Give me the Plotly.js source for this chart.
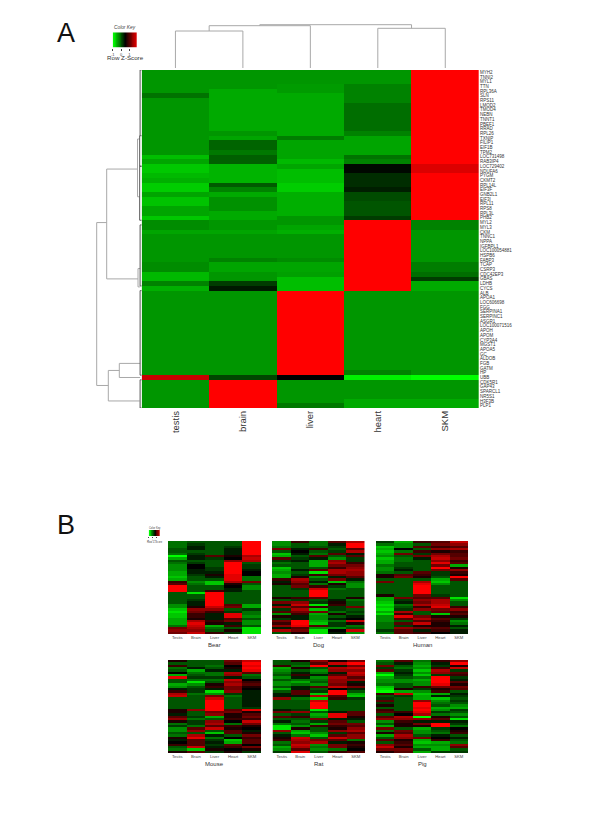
<!DOCTYPE html>
<html>
<head>
<meta charset="utf-8">
<script src="https://cdn.plot.ly/plotly-3.0.1.min.js"></script>
<style>html,body{margin:0;padding:0;background:#fff}</style>
</head>
<body>
<div id="chart" style="width:600px;height:840px"></div>
<script>
const tissues = ["testis","brain","liver","heart","SKM"];
const panelTissues = ["Testis","Brain","Liver","Heart","SKM"];
const geneLabels = ["MYH2","TNNI2","MYL1","TTN","RPL36A","SLN","RPS11","LMOD2","TMOD4","NEBN","TNNT1","PBEF1","RRAD","RPL26","TXNIP","FILIP1","EIF1B","TPM2","LOC731498","RAB3IP4","LOC729402","NDUFA6","PYGM","CKMT2","RPL14L","EIF3F","GNB2L1","EIF3I","RPL11","RPS8","RPL3L","PHB2","MYL2","MYL3","CKM","TNNC1","NPPA","IGFBPL1","LOC100054881","HSPB6","FABP3","TCAP","CSRP3","CDC42EP3","GBAS","LDHB","CYCS","ALB","APOA1","LOC606698","FGG","SERPINA1","SERPINC1","ASGR1","LOC100071516","APOH","APOM","CYP3A4","MGST1","APOA5","GC","ALDOB","FGB","GATM","HP","UBB","CDK5R1","GAP43","SPARCL1","NR5S1","H3F3B","PLP1"];

const testisVals = [-1.5,-1.5,-1.5,-1.5,-1.5,-1.15,-1.5,-1.5,-1.5,-1.5,
 -1.5,-1.5,-1.5,-1.5,-1.5,-1.5,-1.5,-1.5,-1.9,-1.65,
 -2,-2,-1.85,-1.75,-2.05,-2.05,-1.65,-1.95,-1.95,-1.65,
 -1.65,-2,-1.4,-1.4,-1.65,-1.5,-1.5,-1.5,-1.5,-1.5,
 -1.5,-1.4,-1.4,-1.85,-1.85,-1.3,-1.75,-1.5,-1.5,-1.5,
 -1.5,-1.5,-1.5,-1.5,-1.5,-1.5,-1.5,-1.5,-1.5,-1.5,
 -1.5,-1.5,-1.5,-1.5,-1.5,2.0,-1.5,-1.5,-1.5,-1.5,
 -1.5,-1.5];
const brainVals = [-1.5,-1.5,-1.5,-1.5,-1.7,-1.7,-1.7,-1.7,-1.7,-1.7,
 -1.7,-1.7,-1.7,-1.5,-1.65,-1,-1,-1.2,-.95,-.95,
 -1.8,-1.8,-1.8,-1.8,-.9,-1.3,-1.7,-1.45,-1.45,-1.45,
 -1.7,-1.7,-1.5,-1.5,-1.65,-1.5,-1.5,-1.5,-1.5,-1.5,
 -1.3,-1.65,-1.65,-1.5,-1.5,-.6,-.25,-1.5,-1.5,-1.5,
 -1.5,-1.5,-1.5,-1.5,-1.5,-1.5,-1.5,-1.5,-1.5,-1.5,
 -1.5,-1.5,-1.5,-1.5,-1.5,-.7,2.55,2.55,2.55,2.55,
 2.55,2.55];
const liverVals = [-1.5,-1.5,-1.5,-1.55,-1.55,-1.7,-1.7,-1.7,-1.7,-1.7,
 -1.7,-1.7,-1.7,-1.7,-1.25,-1.65,-1.65,-1.65,-1.65,-1.85,
 -1.65,-1.9,-1.9,-1.9,-2.05,-2.05,-1.75,-1.75,-1.75,-1.75,
 -1.75,-1.5,-1.5,-1.65,-1.75,-1.5,-1.5,-1.5,-1.5,-1.5,
 -1.4,-1.65,-1.65,-1.6,-1.9,-1.9,-1.9,2.55,2.55,2.55,
 2.55,2.55,2.55,2.55,2.55,2.55,2.55,2.55,2.55,2.55,
 2.55,2.55,2.55,2.55,2.55,0,-1.5,-1.5,-1.5,-1.5,
 -1.5,-1.2];
const heartVals = [-1.5,-1.5,-1.5,-1.3,-1.3,-1.3,-1.3,-1.1,-1.1,-1.1,
 -1.1,-1.1,-1.1,-1.3,-1.65,-1.65,-1.65,-1.65,-1.15,-1.3,
 -.08,-.08,-.45,-.45,-.45,-.3,-.75,-.75,-.85,-.85,
 -.85,-.6,2.55,2.55,2.55,2.55,2.55,2.55,2.55,2.55,
 2.55,2.55,2.55,2.55,2.55,2.55,2.55,-1.5,-1.5,-1.5,
 -1.5,-1.5,-1.5,-1.5,-1.5,-1.5,-1.5,-1.5,-1.5,-1.5,
 -1.5,-1.5,-1.5,-1.5,-1.3,-2.4,-1.5,-1.5,-1.5,-1.5,
 -1.7,-1.7];
const skmVals = [2.55,2.55,2.55,2.55,2.55,2.55,2.55,2.55,2.55,2.55,
 2.55,2.55,2.55,2.55,2.55,2.55,2.55,2.55,2.55,2.55,
 2.2,2.2,2.55,2.55,2.55,2.55,2.55,2.55,2.55,2.55,
 2.55,2.55,-1.3,-1.3,-1.5,-1.5,-1.5,-1.5,-1.5,-1.5,
 -1.5,-1.25,-1.25,-1.1,-.6,-1.7,-1.7,-1.5,-1.5,-1.5,
 -1.5,-1.5,-1.5,-1.5,-1.5,-1.5,-1.5,-1.5,-1.5,-1.5,
 -1.5,-1.5,-1.5,-1.5,-1.5,-2.55,-1.5,-1.5,-1.5,-1.5,
 -1.7,-1.7];

const keySteps = [-1,-0.8,-0.6,-0.4,-0.2,0,0.2,0.45,0.7,0.9,1.1,1.3,1.5,1.7,1.9];
const keyTicks = [-1,0,1];

// dendrogram merges: [first position, second position, merge height, first child height, second child height]
const colMerges = [[0,1,37,0,0],[3,4,39.7,0,0],[0.5,2,42.3,37,0],[1.25,3.5,43.3,42.3,39.7]];
const rowMerges = [[32,66.7,45,35,33.4],[20.6,44,35,4.2,3.7],[14.2,26.5,4.2,2,2],[41.8,45.7,3.7,1.5,1.5],
 [63.5,70,33.4,22.4,2],[62,65,22.4,1.5,1.5]];
const rowLeaves = [[-0.5,13.5,1.6,0,0],[13.5,20,2,1.6,0],[20,31.5,2,0,0],[32.5,45.5,1.6,0,0],[46.5,64.5,1.6,0,0],[65.5,71.5,1.6,0,0]];

const bearRows = [[-4,-3,-3,-3,9],[-4,-2,-3,-3,9],[-4,-1,-3,-2,9],[-3,-1,-3,-1,9],[-3,-3,-3,-1,9],[-4,-2,-3,-1,9],[-9,-1,3,1,6],[-6,-1,-2,0,7],[-3,-3,-3,5,6],[-4,-2,-3,9,-3],
 [-5,0,-3,9,-2],[-5,0,-2,9,-2],[-5,-1,-2,9,-1],[-6,-1,-1,9,0],[-6,-2,1,8,0],[-7,-3,-1,8,-4],[-6,-3,-3,8,-4],[2,-5,-7,6,4],[3,-4,-7,1,-3],[9,-3,-3,0,-5],
 [9,-3,-3,-1,-5],[9,-3,2,-1,-3],[-3,-8,9,-3,-3],[-3,-3,9,-3,-3],[-3,-3,9,-3,-3],[-3,-2,9,-3,-3],[-3,-1,9,-3,-3],[-5,-1,9,3,-6],[-5,1,7,4,-6],[-7,5,5,-3,-2],
 [-8,4,2,-2,-4],[-7,2,-1,8,-4],[-7,2,-1,8,-5],[-6,1,-1,3,-3],[-6,6,2,4,-5],[-6,8,1,-1,-5],[-4,7,-6,2,-3],[4,6,-4,-3,-8],[5,5,-3,1,-8],[4,7,2,-2,-8]];
const dogRows = [[-5,2,-4,3,6],[-5,-3,-4,-1,9],[-4,-3,-3,-2,9],[4,-1,2,-3,3],[-3,0,-3,-2,6],[-7,-1,-4,3,-1],[-6,-3,3,-3,3],[3,-2,-1,-5,-2],[-2,-1,-6,5,-2],[-4,-3,-6,6,2],
 [-3,-3,-6,4,4],[-7,-3,-3,2,5],[-6,-1,3,6,6],[-5,-3,-8,6,5],[-6,-2,2,4,5],[-6,1,-5,-1,3],[2,6,-3,4,-1],[-1,5,-1,-7,-4],[1,3,-4,1,-5],[-3,4,2,-2,-5],
 [-3,-2,7,-4,-3],[-3,-3,9,-3,-3],[-3,-3,9,-3,-3],[-3,-3,9,-3,-3],[1,2,3,-3,1],[-3,-2,-3,-1,-4],[4,5,-2,1,-3],[-1,7,-8,2,-3],[5,3,2,-2,4],[-2,6,-7,-2,-3],
 [3,4,4,-4,-2],[-5,2,-6,1,-3],[1,-1,-5,-3,-1],[-2,-1,-5,-1,0],[4,9,-6,-4,7],[2,9,-7,-2,1],[5,8,3,-2,-4],[-1,3,-5,-5,-3],[6,4,-8,0,7],[-3,1,-8,-1,-5]];
const humanRows = [[-2,-6,2,3,7],[-4,-5,-3,4,5],[-7,-5,3,2,3],[-6,0,-3,5,6],[-7,-4,2,1,2],[-6,4,-2,4,3],[-5,-3,4,6,3],[-7,-4,-1,7,4],[-6,-4,-3,5,2],[-6,-3,-3,8,3],
 [-4,-3,-3,4,-6],[-5,-2,-3,9,1],[-5,-1,-3,4,5],[-4,-3,3,-2,2],[1,3,2,-2,1],[1,4,1,-3,9],[-3,-3,-3,-6,3],[4,-3,6,-7,-3],[-3,-3,8,-5,-3],[-3,-3,9,-3,-3],
 [-3,-3,9,-3,-3],[-3,-3,9,-3,-3],[-3,-3,9,-3,-3],[1,-3,4,-2,-3],[-6,4,3,3,-8],[-6,-2,5,6,-5],[-7,-1,4,6,-3],[-8,-4,6,7,-3],[-7,-3,2,8,2],[-8,-2,5,4,5],
 [-6,6,-3,3,2],[-8,2,-3,-7,3],[-5,8,4,1,1],[-5,3,6,3,-2],[-5,-3,3,2,-5],[-4,3,7,1,-4],[-4,-2,1,1,-1],[-4,5,4,3,-3],[-2,3,-1,2,-1],[-4,3,2,0,-1]];
const mouseRows = [[1,-3,-3,4,7],[-3,-3,-3,3,9],[2,-3,-4,0,8],[-4,-1,-3,1,9],[-3,-6,-1,-1,8],[0,-4,-4,6,3],[-6,-3,-4,5,-4],[8,-2,-2,-1,-3],[-3,-4,-4,7,0],[-3,-8,-3,5,2],
 [-6,-5,1,6,3],[-5,-3,2,4,1],[-1,-2,-1,4,0],[2,-2,-8,5,-1],[6,-4,-5,-2,-1],[7,-3,4,-4,-1],[-3,-3,7,-3,-1],[-3,-3,9,-3,-1],[-3,-3,9,-3,-1],[-3,-3,9,-3,-1],
 [-3,-3,9,-3,-2],[1,5,9,3,8],[1,-3,4,4,1],[-1,-3,5,1,3],[3,-2,-6,1,4],[5,-4,-3,2,2],[1,-2,5,0,7],[-4,-2,6,-4,4],[-2,-4,3,2,1],[-5,3,7,1,0],
 [-5,5,-3,3,-1],[-3,-3,-7,3,1],[-4,6,-1,-3,4],[1,8,-4,0,2],[-1,3,-2,-7,3],[0,3,-1,-6,3],[2,3,-2,3,0],[-3,7,-1,2,4],[-4,-7,1,0,1],[1,3,-2,1,-2]];
const ratRows = [[-3,1,5,1,4],[-3,-3,3,7,9],[2,-4,9,-1,4],[-6,1,-3,6,7],[-5,-3,-5,5,5],[-4,-1,-4,-1,7],[-3,2,-1,3,6],[-5,-1,-5,6,3],[-3,-4,-4,5,5],[-5,-6,-3,5,-1],
 [-5,-4,-5,4,1],[-3,-1,3,7,4],[-6,-1,-3,0,-1],[-3,3,-2,9,-3],[-1,3,-7,9,-6],[-1,-1,6,3,-7],[5,-4,-7,2,-2],[-3,-3,7,-3,-3],[-3,-3,9,-3,-3],[-3,-3,9,-3,-3],
 [-3,-3,9,-3,-3],[-1,-2,-8,-3,-3],[4,5,-3,-1,3],[-3,-2,-6,8,3],[3,2,-5,8,1],[-3,-3,4,-1,-1],[-1,-4,-2,3,-3],[-4,-3,-6,4,4],[-8,-5,2,2,3],[-8,1,-3,1,5],
 [5,-6,-3,5,6],[-3,-7,-5,-2,3],[-1,-4,-7,3,5],[1,7,-3,7,5],[2,6,4,3,-4],[-4,5,6,-1,1],[-3,7,-5,4,2],[-6,6,-4,4,1],[-5,3,-5,-4,0],[-2,8,-3,2,3]];
const pigRows = [[-4,3,-4,2,5],[-3,-1,-5,-1,9],[4,-3,-6,-2,1],[-2,-4,-5,2,7],[3,-2,-7,6,-2],[-6,-1,-5,5,3],[-9,-2,-7,-2,2],[-6,-3,-4,9,-2],[-5,-5,-6,9,-1],[-5,-5,-5,9,3],
 [-4,-3,-5,8,1],[-7,-3,2,4,4],[-8,1,-2,1,3],[-9,-6,-5,2,-3],[2,7,-7,-6,-1],[-3,-2,-6,-1,-2],[-2,-3,-6,-7,-3],[3,-3,5,-5,-2],[-2,-3,9,-4,-3],[1,-3,9,-3,-5],
 [-3,-3,8,-6,-6],[2,-3,9,-5,-2],[3,2,8,-2,-3],[-3,0,6,-4,-5],[3,6,-9,1,-3],[5,5,5,3,-8],[-5,2,-1,-1,-1],[-3,1,4,9,-2],[-6,1,1,9,-4],[4,-3,-6,-2,0],
 [-4,4,-5,-3,1],[1,3,-5,-4,2],[-6,6,-3,-1,-3],[-3,5,4,0,-1],[3,1,-6,2,-3],[-3,2,-7,-6,-4],[5,3,-5,-5,5],[7,1,-6,-6,3],[4,4,-3,-6,-3],[1,3,-6,-2,-2]];

const panels = [
 {name:"Bear",rows:bearRows,x:[168,261],y:[541,634]},
 {name:"Dog",rows:dogRows,x:[272,364.5],y:[541,634]},
 {name:"Human",rows:humanRows,x:[376,468],y:[541,634]},
 {name:"Mouse",rows:mouseRows,x:[168,261],y:[660,753]},
 {name:"Rat",rows:ratRows,x:[272.5,365],y:[660,753]},
 {name:"Pig",rows:pigRows,x:[376,468],y:[660,753]}
];

const GRK = [[0,'rgb(0,255,0)'],[0.5,'rgb(0,0,0)'],[1,'rgb(255,0,0)']];
const FONT = 'Liberation Sans, Arial, sans-serif';
const px = v => v/600, py = v => 1 - v/840;
const domX = a => [px(a[0]),px(a[1])];
const domY = a => [py(a[1]),py(a[0])];

const layout = {
 width:600,height:840,margin:{l:0,r:0,t:0,b:0,pad:0},paper_bgcolor:'#fff',plot_bgcolor:'#fff',showlegend:false,
 font:{family:FONT,color:'#222'},annotations:[]
};
const traces = [];
const hidden = {showgrid:false,zeroline:false,showline:false,showticklabels:false,ticks:''};

// panel A
const mainZ = geneLabels.map((_,i)=>[testisVals[i],brainVals[i],liverVals[i],heartVals[i],skmVals[i]]);
traces.push({type:'heatmap',z:mainZ,x:[0,1,2,3,4],y:geneLabels.map((_,i)=>i),colorscale:GRK,zmin:-2.55,zmax:2.55,showscale:false,xaxis:'x',yaxis:'y'});
layout.xaxis = {...hidden,domain:domX([141.7,479]),range:[-0.5,4.5],anchor:'y',tickmode:'array',tickvals:[0,1,2,3,4],ticktext:tissues,showticklabels:true,tickangle:-90,tickfont:{size:9.5,color:'#333',family:FONT}};
layout.yaxis = {...hidden,domain:domY([70,408]),range:[71.5,-0.5],anchor:'x',side:'right',tickmode:'array',tickvals:geneLabels.map((_,i)=>i),ticktext:geneLabels,showticklabels:true,tickfont:{size:4.5,color:'#333',family:FONT}};

// column dendrogram
colMerges.forEach(m=>traces.push({type:'scatter',mode:'lines',x:[m[0],m[0],m[1],m[1]],y:[m[3],m[2],m[2],m[4]],line:{color:'#a8a8a8',width:1},xaxis:'x2',yaxis:'y2',hoverinfo:'skip'}));
layout.xaxis2 = {...hidden,domain:domX([141.7,479]),range:[-0.5,4.5],anchor:'y2'};
layout.yaxis2 = {...hidden,domain:domY([22,68]),range:[0,46],anchor:'x2'};

// row dendrogram
rowMerges.forEach(m=>traces.push({type:'scatter',mode:'lines',x:[m[3],m[2],m[2],m[4]],y:[m[0],m[0],m[1],m[1]],line:{color:'#a8a8a8',width:1},xaxis:'x3',yaxis:'y3',hoverinfo:'skip'}));
rowLeaves.forEach(m=>traces.push({type:'scatter',mode:'lines',x:[m[3],m[2],m[2],m[4]],y:[m[0],m[0],m[1],m[1]],line:{color:'#555',width:1},xaxis:'x3',yaxis:'y3',hoverinfo:'skip'}));
layout.xaxis3 = {...hidden,domain:domX([91.7,141.7]),range:[50,0],anchor:'y3'};
layout.yaxis3 = {...hidden,domain:domY([70,408]),range:[71.5,-0.5],anchor:'x3'};

// colour keys
function key(n,xr,yr,tickSize){
 traces.push({type:'heatmap',z:[keySteps],x:keySteps,y:[0],colorscale:GRK,zmin:-1,zmax:1.9,showscale:false,zsmooth:'best',xaxis:'x'+n,yaxis:'y'+n});
 layout['xaxis'+n] = {...hidden,domain:domX(xr),range:[-1,1.9],anchor:'y'+n,tickmode:'array',tickvals:keyTicks,ticktext:keyTicks.map(String),showticklabels:true,ticks:'outside',ticklen:tickSize,tickwidth:0.5,tickcolor:'#444',tickfont:{size:tickSize*2,color:'#444',family:FONT}};
 layout['yaxis'+n] = {...hidden,domain:domY(yr),anchor:'x'+n,range:[-0.5,0.5]};
}
key(4,[112.7,137],[32.3,47.7],2);
key(5,[148.7,160],[530,536],1);

// panel B
panels.forEach((p,k)=>{
 const n = 6+k;
 traces.push({type:'heatmap',z:p.rows,x:[0,1,2,3,4],y:p.rows.map((_,i)=>i),colorscale:GRK,zmin:-9,zmax:9,showscale:false,xaxis:'x'+n,yaxis:'y'+n});
 layout['xaxis'+n] = {...hidden,domain:domX(p.x),range:[-0.5,4.5],anchor:'y'+n,tickmode:'array',tickvals:[0,1,2,3,4],ticktext:panelTissues,showticklabels:true,tickangle:0,tickfont:{size:4.2,color:'#444',family:FONT}};
 layout['yaxis'+n] = {...hidden,domain:domY(p.y),range:[p.rows.length-0.5,-0.5],anchor:'x'+n};
 layout.annotations.push({xref:'paper',yref:'paper',x:px((p.x[0]+p.x[1])/2),y:py(p.y[1]+11),text:p.name,showarrow:false,font:{size:6,color:'#333',family:FONT},xanchor:'center',yanchor:'middle'});
});

function note(x,y,text,size,color){
 layout.annotations.push({xref:'paper',yref:'paper',x:px(x),y:py(y),text,showarrow:false,font:{size,color:color||'#222',family:FONT},xanchor:'center',yanchor:'middle'});
}
note(65.5,33,'A',27,'#111');
note(66,525,'B',27,'#111');
note(125,28,'<i>Color Key</i>',4.8,'#444');
note(125,58,'Row Z-Score',6.2,'#333');
note(154.5,527.5,'Color Key',2.6,'#444');
note(154.5,542,'Row Z-Score',2.6,'#444');

Plotly.newPlot('chart',traces,layout,{displayModeBar:false,responsive:false});
</script>
</body>
</html>
